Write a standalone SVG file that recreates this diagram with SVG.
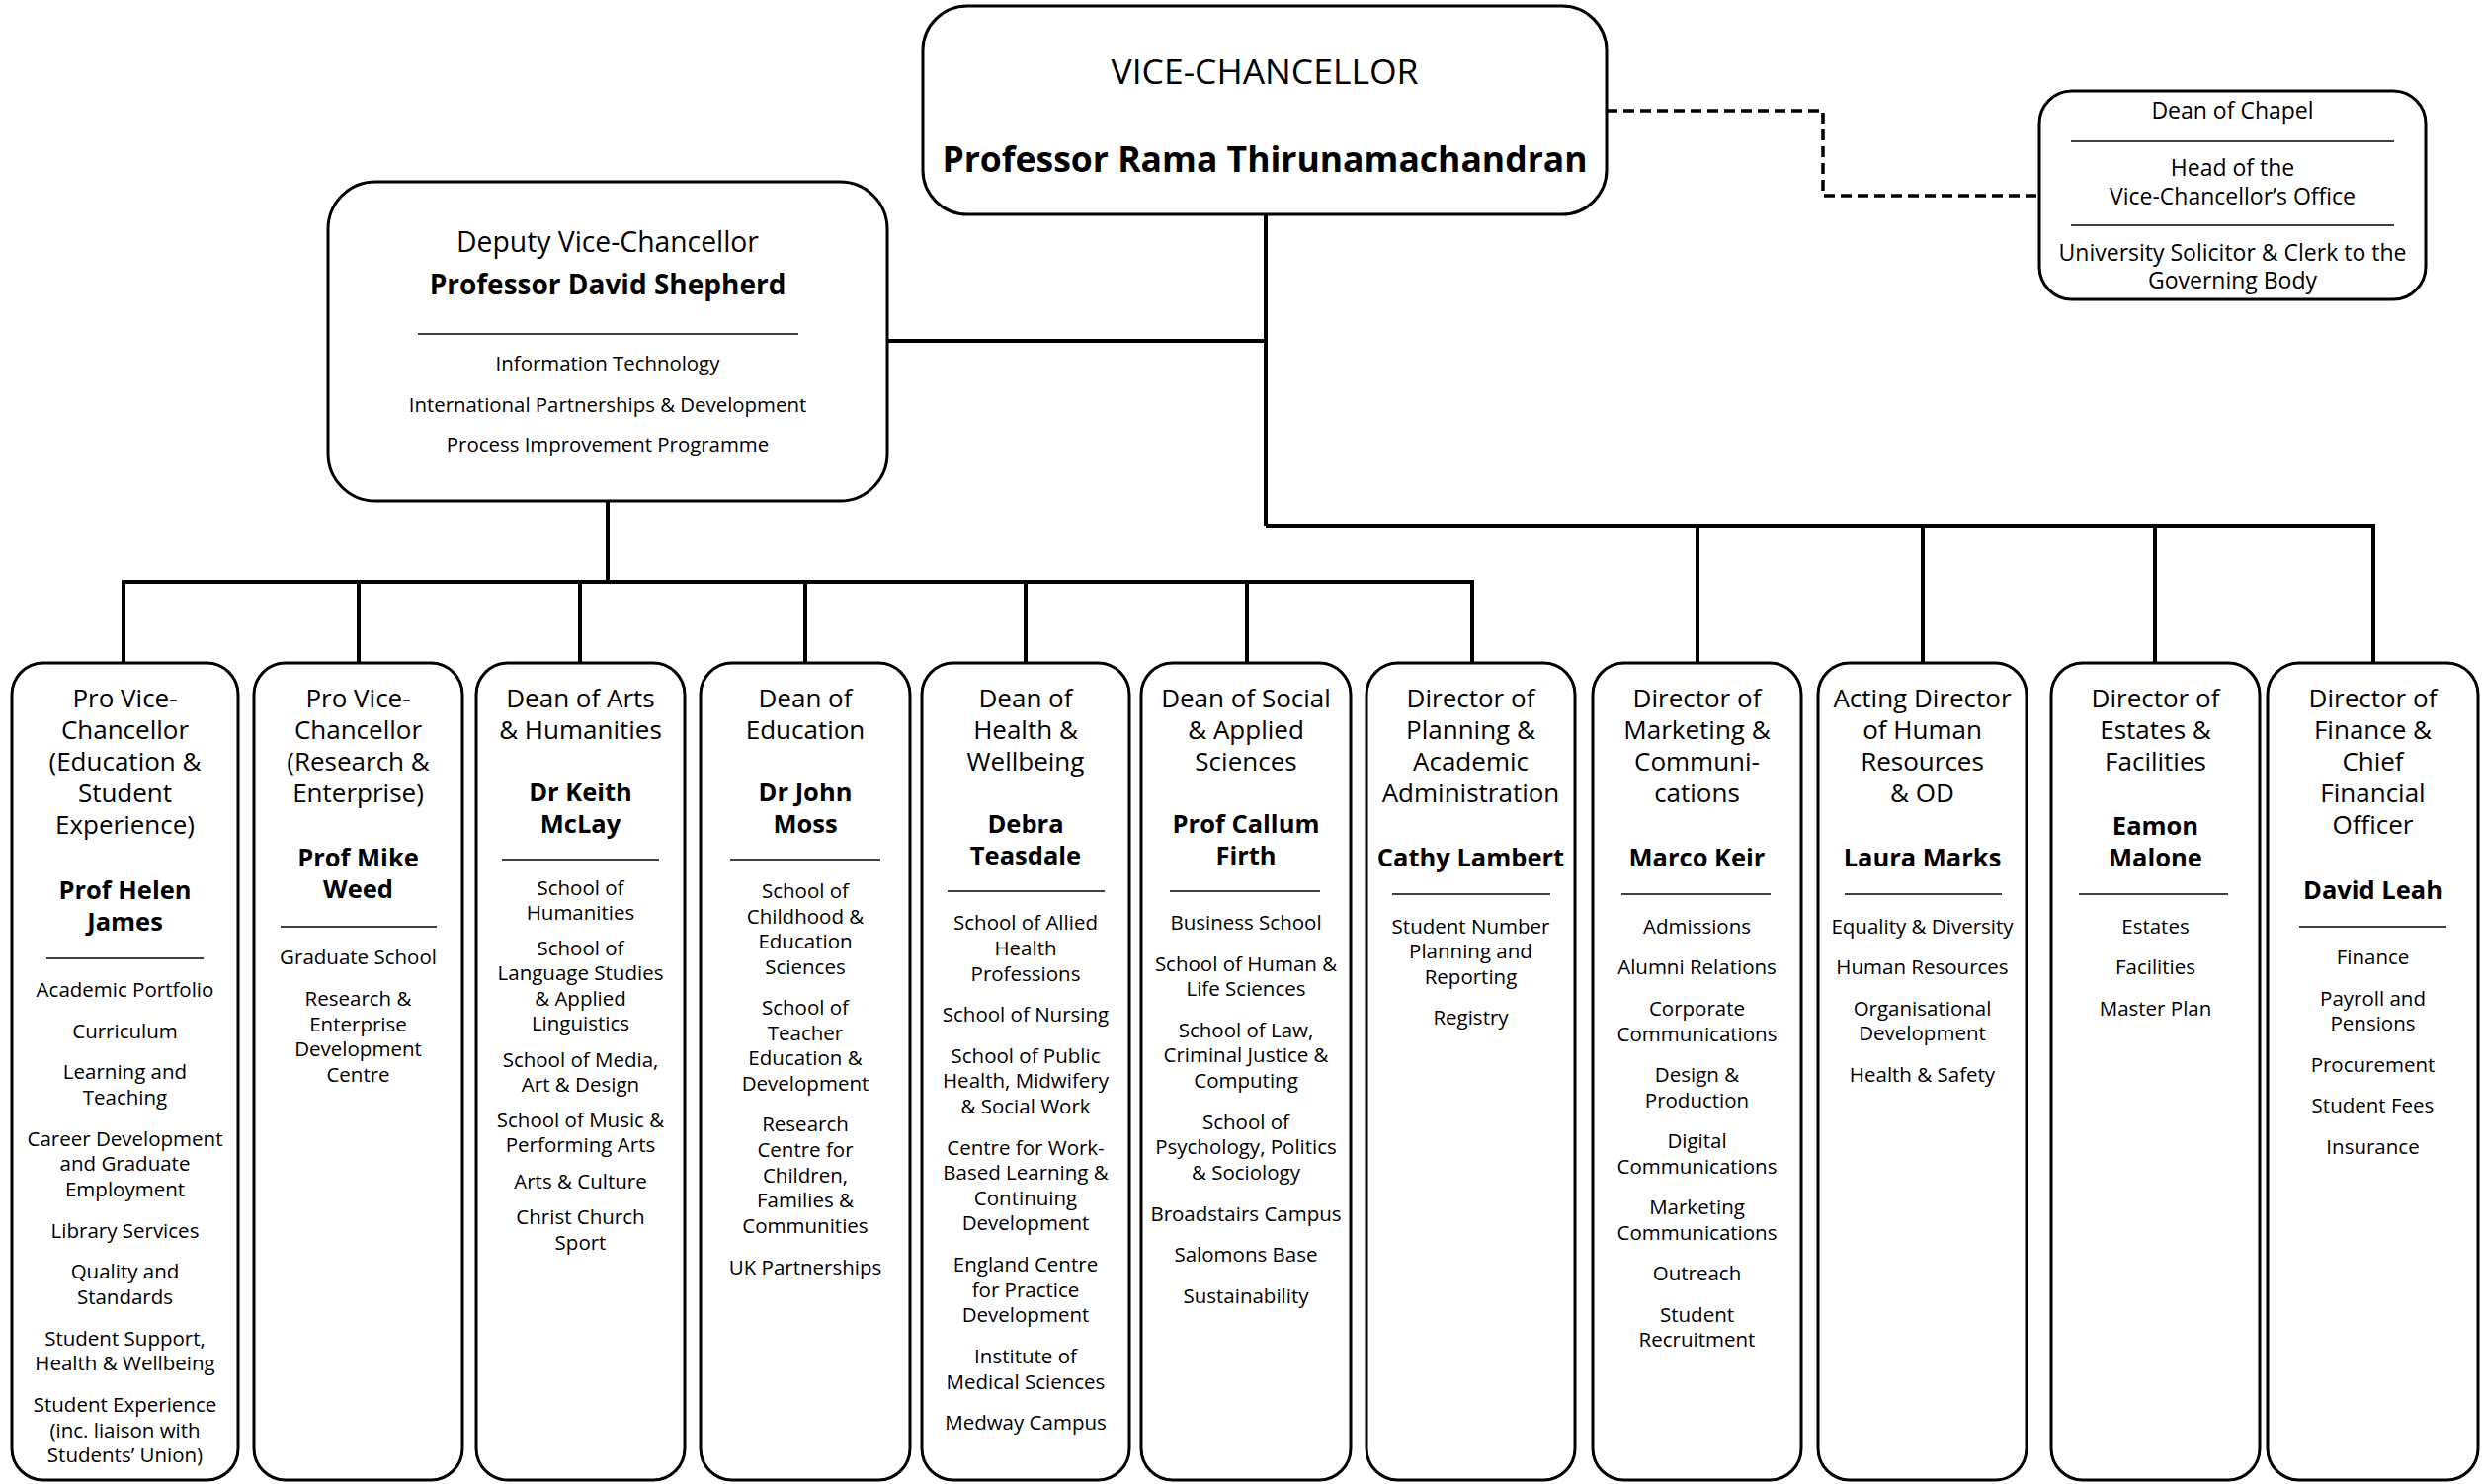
<svg xmlns="http://www.w3.org/2000/svg" width="2513" height="1502" viewBox="0 0 2513 1502">
<style>
.box{fill:#fff;stroke:#000;stroke-width:3}
.conn{stroke:#000;stroke-width:4;fill:none}
.dash{stroke:#000;stroke-width:3.5;fill:none;stroke-dasharray:11 6}
.sep{stroke:#000;stroke-width:1.3}
text{font-family:'Open Sans','Noto Sans',sans-serif;text-anchor:middle;fill:#000}
.t{font-size:26px}
.n{font-size:25.5px;font-weight:bold}
.i{font-size:20.5px}
.vt{font-size:35.5px}
.vn{font-size:35.5px;font-weight:bold}
.dt{font-size:28.3px}
.dn{font-size:28px;font-weight:bold}
.di{font-size:20.4px}
.ci{font-size:23px}
</style>
<rect width="2513" height="1502" fill="#fff"/>
<g id="connectors">
<path class="conn" d="M1281 217 V532 M898 345 H1281 M1281 532 H2404 M1718 532 V671 M1946 532 V671 M2181 532 V671 M2402 532 V671"/>
<path class="conn" d="M615 507 V589 M123 589 H1492 M125 589 V671 M363 589 V671 M587 589 V671 M815 589 V671 M1038 589 V671 M1262 589 V671 M1490 589 V671"/>
<path class="dash" d="M1626 112 H1845 V198 H2064"/>
</g>
<g id="vc">
<rect class="box" x="934" y="6" width="692" height="211" rx="45"/>
<text class="vt" x="1280" y="85">VICE-CHANCELLOR</text>
<text class="vn" x="1280" y="174">Professor Rama Thirunamachandran</text>
</g>
<g id="chapel">
<rect class="box" x="2064" y="92" width="391" height="211" rx="33"/>
<text class="ci" x="2259.5" y="120">Dean of Chapel</text>
<line class="sep" x1="2096" y1="143" x2="2423" y2="143"/>
<text class="ci" x="2259.5" y="178">Head of the</text>
<text class="ci" x="2259.5" y="207">Vice-Chancellor’s Office</text>
<line class="sep" x1="2096" y1="228" x2="2423" y2="228"/>
<text class="ci" x="2259.5" y="264">University Solicitor &amp; Clerk to the</text>
<text class="ci" x="2259.5" y="292">Governing Body</text>
</g>
<g id="dvc">
<rect class="box" x="332" y="184" width="566" height="323" rx="48"/>
<text class="dt" x="615" y="255">Deputy Vice-Chancellor</text>
<text class="dn" x="615" y="298">Professor David Shepherd</text>
<line class="sep" x1="423" y1="338" x2="808" y2="338"/>
<text class="di" x="615" y="375">Information Technology</text>
<text class="di" x="615" y="417">International Partnerships &amp; Development</text>
<text class="di" x="615" y="457">Process Improvement Programme</text>
</g>
<g id="pvc-education">
<rect class="box" x="12" y="671" width="229" height="827" rx="32"/>
<text class="t"><tspan x="126.5" y="716">Pro Vice-</tspan><tspan x="126.5" y="748">Chancellor</tspan><tspan x="126.5" y="780">(Education &amp;</tspan><tspan x="126.5" y="812">Student</tspan><tspan x="126.5" y="844">Experience)</tspan></text>
<text class="n"><tspan x="126.5" y="910">Prof Helen</tspan><tspan x="126.5" y="942">James</tspan></text>
<line class="sep" x1="47" y1="970" x2="206" y2="970"/>
<text class="i"><tspan x="126.5" y="1009">Academic Portfolio</tspan><tspan x="126.5" y="1051">Curriculum</tspan><tspan x="126.5" y="1092">Learning and</tspan><tspan x="126.5" y="1118">Teaching</tspan><tspan x="126.5" y="1160">Career Development</tspan><tspan x="126.5" y="1185">and Graduate</tspan><tspan x="126.5" y="1211">Employment</tspan><tspan x="126.5" y="1253">Library Services</tspan><tspan x="126.5" y="1294">Quality and</tspan><tspan x="126.5" y="1320">Standards</tspan><tspan x="126.5" y="1362">Student Support,</tspan><tspan x="126.5" y="1387">Health &amp; Wellbeing</tspan><tspan x="126.5" y="1429">Student Experience</tspan><tspan x="126.5" y="1455">(inc. liaison with</tspan><tspan x="126.5" y="1480">Students’ Union)</tspan></text>
</g>
<g id="pvc-research">
<rect class="box" x="257" y="671" width="211" height="827" rx="32"/>
<text class="t"><tspan x="362.5" y="716">Pro Vice-</tspan><tspan x="362.5" y="748">Chancellor</tspan><tspan x="362.5" y="780">(Research &amp;</tspan><tspan x="362.5" y="812">Enterprise)</tspan></text>
<text class="n"><tspan x="362.5" y="877">Prof Mike</tspan><tspan x="362.5" y="909">Weed</tspan></text>
<line class="sep" x1="284" y1="938" x2="442" y2="938"/>
<text class="i"><tspan x="362.5" y="976">Graduate School</tspan><tspan x="362.5" y="1018">Research &amp;</tspan><tspan x="362.5" y="1044">Enterprise</tspan><tspan x="362.5" y="1069">Development</tspan><tspan x="362.5" y="1095">Centre</tspan></text>
</g>
<g id="dean-arts">
<rect class="box" x="482" y="671" width="211" height="827" rx="32"/>
<text class="t"><tspan x="587.5" y="716">Dean of Arts</tspan><tspan x="587.5" y="748">&amp; Humanities</tspan></text>
<text class="n"><tspan x="587.5" y="811">Dr Keith</tspan><tspan x="587.5" y="843">McLay</tspan></text>
<line class="sep" x1="508" y1="870" x2="667" y2="870"/>
<text class="i"><tspan x="587.5" y="906">School of</tspan><tspan x="587.5" y="931">Humanities</tspan><tspan x="587.5" y="967">School of</tspan><tspan x="587.5" y="992">Language Studies</tspan><tspan x="587.5" y="1018">&amp; Applied</tspan><tspan x="587.5" y="1043">Linguistics</tspan><tspan x="587.5" y="1080">School of Media,</tspan><tspan x="587.5" y="1105">Art &amp; Design</tspan><tspan x="587.5" y="1141">School of Music &amp;</tspan><tspan x="587.5" y="1166">Performing Arts</tspan><tspan x="587.5" y="1203">Arts &amp; Culture</tspan><tspan x="587.5" y="1239">Christ Church</tspan><tspan x="587.5" y="1265">Sport</tspan></text>
</g>
<g id="dean-education">
<rect class="box" x="709" y="671" width="212" height="827" rx="32"/>
<text class="t"><tspan x="815" y="716">Dean of</tspan><tspan x="815" y="748">Education</tspan></text>
<text class="n"><tspan x="815" y="811">Dr John</tspan><tspan x="815" y="843">Moss</tspan></text>
<line class="sep" x1="739" y1="870" x2="891" y2="870"/>
<text class="i"><tspan x="815" y="909">School of</tspan><tspan x="815" y="935">Childhood &amp;</tspan><tspan x="815" y="960">Education</tspan><tspan x="815" y="986">Sciences</tspan><tspan x="815" y="1027">School of</tspan><tspan x="815" y="1053">Teacher</tspan><tspan x="815" y="1078">Education &amp;</tspan><tspan x="815" y="1104">Development</tspan><tspan x="815" y="1145">Research</tspan><tspan x="815" y="1171">Centre for</tspan><tspan x="815" y="1197">Children,</tspan><tspan x="815" y="1222">Families &amp;</tspan><tspan x="815" y="1248">Communities</tspan><tspan x="815" y="1290">UK Partnerships</tspan></text>
</g>
<g id="dean-health">
<rect class="box" x="933" y="671" width="210" height="827" rx="32"/>
<text class="t"><tspan x="1038" y="716">Dean of</tspan><tspan x="1038" y="748">Health &amp;</tspan><tspan x="1038" y="780">Wellbeing</tspan></text>
<text class="n"><tspan x="1038" y="843">Debra</tspan><tspan x="1038" y="875">Teasdale</tspan></text>
<line class="sep" x1="959" y1="902" x2="1118" y2="902"/>
<text class="i"><tspan x="1038" y="941">School of Allied</tspan><tspan x="1038" y="967">Health</tspan><tspan x="1038" y="993">Professions</tspan><tspan x="1038" y="1034">School of Nursing</tspan><tspan x="1038" y="1076">School of Public</tspan><tspan x="1038" y="1101">Health, Midwifery</tspan><tspan x="1038" y="1127">&amp; Social Work</tspan><tspan x="1038" y="1169">Centre for Work-</tspan><tspan x="1038" y="1194">Based Learning &amp;</tspan><tspan x="1038" y="1220">Continuing</tspan><tspan x="1038" y="1245">Development</tspan><tspan x="1038" y="1287">England Centre</tspan><tspan x="1038" y="1313">for Practice</tspan><tspan x="1038" y="1338">Development</tspan><tspan x="1038" y="1380">Institute of</tspan><tspan x="1038" y="1406">Medical Sciences</tspan><tspan x="1038" y="1447">Medway Campus</tspan></text>
</g>
<g id="dean-social">
<rect class="box" x="1155" y="671" width="212" height="827" rx="32"/>
<text class="t"><tspan x="1261" y="716">Dean of Social</tspan><tspan x="1261" y="748">&amp; Applied</tspan><tspan x="1261" y="780">Sciences</tspan></text>
<text class="n"><tspan x="1261" y="843">Prof Callum</tspan><tspan x="1261" y="875">Firth</tspan></text>
<line class="sep" x1="1184" y1="902" x2="1336" y2="902"/>
<text class="i"><tspan x="1261" y="941">Business School</tspan><tspan x="1261" y="983">School of Human &amp;</tspan><tspan x="1261" y="1008">Life Sciences</tspan><tspan x="1261" y="1050">School of Law,</tspan><tspan x="1261" y="1075">Criminal Justice &amp;</tspan><tspan x="1261" y="1101">Computing</tspan><tspan x="1261" y="1143">School of</tspan><tspan x="1261" y="1168">Psychology, Politics</tspan><tspan x="1261" y="1194">&amp; Sociology</tspan><tspan x="1261" y="1236">Broadstairs Campus</tspan><tspan x="1261" y="1277">Salomons Base</tspan><tspan x="1261" y="1319">Sustainability</tspan></text>
</g>
<g id="dir-planning">
<rect class="box" x="1383" y="671" width="211" height="827" rx="32"/>
<text class="t"><tspan x="1488.5" y="716">Director of</tspan><tspan x="1488.5" y="748">Planning &amp;</tspan><tspan x="1488.5" y="780">Academic</tspan><tspan x="1488.5" y="812">Administration</tspan></text>
<text class="n" x="1488.5" y="877">Cathy Lambert</text>
<line class="sep" x1="1409" y1="905" x2="1569" y2="905"/>
<text class="i"><tspan x="1488.5" y="945">Student Number</tspan><tspan x="1488.5" y="970">Planning and</tspan><tspan x="1488.5" y="996">Reporting</tspan><tspan x="1488.5" y="1037">Registry</tspan></text>
</g>
<g id="dir-marketing">
<rect class="box" x="1612" y="671" width="211" height="827" rx="32"/>
<text class="t"><tspan x="1717.5" y="716">Director of</tspan><tspan x="1717.5" y="748">Marketing &amp;</tspan><tspan x="1717.5" y="780">Communi-</tspan><tspan x="1717.5" y="812">cations</tspan></text>
<text class="n" x="1717.5" y="877">Marco Keir</text>
<line class="sep" x1="1641" y1="905" x2="1792" y2="905"/>
<text class="i"><tspan x="1717.5" y="945">Admissions</tspan><tspan x="1717.5" y="986">Alumni Relations</tspan><tspan x="1717.5" y="1028">Corporate</tspan><tspan x="1717.5" y="1054">Communications</tspan><tspan x="1717.5" y="1095">Design &amp;</tspan><tspan x="1717.5" y="1121">Production</tspan><tspan x="1717.5" y="1162">Digital</tspan><tspan x="1717.5" y="1188">Communications</tspan><tspan x="1717.5" y="1229">Marketing</tspan><tspan x="1717.5" y="1255">Communications</tspan><tspan x="1717.5" y="1296">Outreach</tspan><tspan x="1717.5" y="1338">Student</tspan><tspan x="1717.5" y="1363">Recruitment</tspan></text>
</g>
<g id="dir-hr">
<rect class="box" x="1840" y="671" width="211" height="827" rx="32"/>
<text class="t"><tspan x="1945.5" y="716">Acting Director</tspan><tspan x="1945.5" y="748">of Human</tspan><tspan x="1945.5" y="780">Resources</tspan><tspan x="1945.5" y="812">&amp; OD</tspan></text>
<text class="n" x="1945.5" y="877">Laura Marks</text>
<line class="sep" x1="1867" y1="905" x2="2026" y2="905"/>
<text class="i"><tspan x="1945.5" y="945">Equality &amp; Diversity</tspan><tspan x="1945.5" y="986">Human Resources</tspan><tspan x="1945.5" y="1028">Organisational</tspan><tspan x="1945.5" y="1053">Development</tspan><tspan x="1945.5" y="1095">Health &amp; Safety</tspan></text>
</g>
<g id="dir-estates">
<rect class="box" x="2076" y="671" width="211" height="827" rx="32"/>
<text class="t"><tspan x="2181.5" y="716">Director of</tspan><tspan x="2181.5" y="748">Estates &amp;</tspan><tspan x="2181.5" y="780">Facilities</tspan></text>
<text class="n"><tspan x="2181.5" y="845">Eamon</tspan><tspan x="2181.5" y="877">Malone</tspan></text>
<line class="sep" x1="2104" y1="905" x2="2255" y2="905"/>
<text class="i"><tspan x="2181.5" y="945">Estates</tspan><tspan x="2181.5" y="986">Facilities</tspan><tspan x="2181.5" y="1028">Master Plan</tspan></text>
</g>
<g id="dir-finance">
<rect class="box" x="2295" y="671" width="213" height="827" rx="32"/>
<text class="t"><tspan x="2401.5" y="716">Director of</tspan><tspan x="2401.5" y="748">Finance &amp;</tspan><tspan x="2401.5" y="780">Chief</tspan><tspan x="2401.5" y="812">Financial</tspan><tspan x="2401.5" y="844">Officer</tspan></text>
<text class="n" x="2401.5" y="910">David Leah</text>
<line class="sep" x1="2327" y1="938" x2="2476" y2="938"/>
<text class="i"><tspan x="2401.5" y="976">Finance</tspan><tspan x="2401.5" y="1018">Payroll and</tspan><tspan x="2401.5" y="1043">Pensions</tspan><tspan x="2401.5" y="1085">Procurement</tspan><tspan x="2401.5" y="1126">Student Fees</tspan><tspan x="2401.5" y="1168">Insurance</tspan></text>
</g>
</svg>
